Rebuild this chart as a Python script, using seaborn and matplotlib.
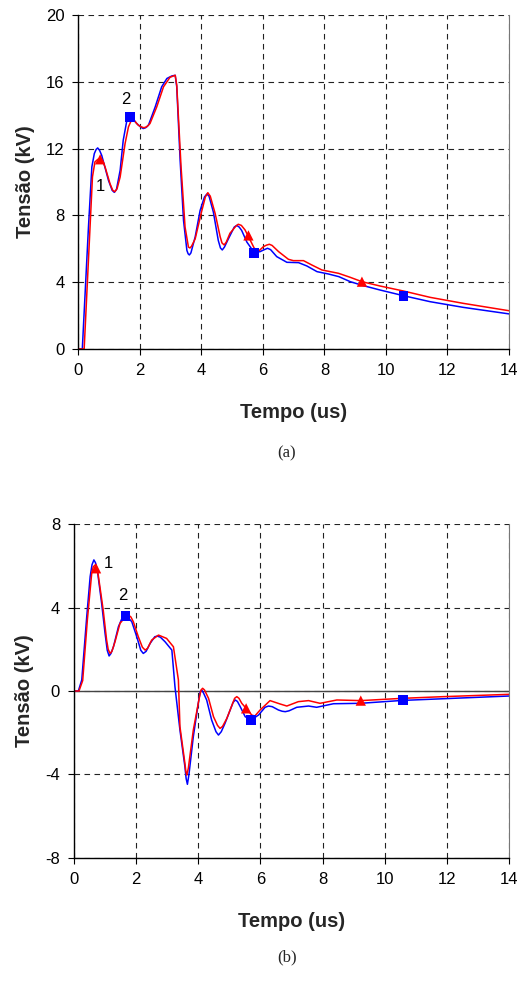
import matplotlib
matplotlib.use("Agg")
import matplotlib.pyplot as plt
import seaborn as sns

# (a) voltage waveforms, time in us, voltage in kV
A_BLUE_T = [0.0, 0.13, 0.33, 0.44, 0.52, 0.58, 0.63, 0.69, 0.76, 0.98, 1.1, 1.17, 1.24, 1.36, 1.46, 1.57,
            1.62, 1.68, 1.75, 1.9, 2.02, 2.11, 2.19, 2.28, 2.5, 2.71, 2.88, 3.04, 3.15, 3.2, 3.31, 3.42,
            3.53, 3.57, 3.61, 3.66, 3.8, 3.96, 4.1, 4.18, 4.25, 4.39, 4.55, 4.62, 4.68, 4.75, 4.88, 5.07,
            5.15, 5.23, 5.31, 5.48, 5.72, 5.91, 6.05, 6.15, 6.25, 6.45, 6.78, 7.16, 7.43, 7.76, 8.13,
            8.47, 8.84, 9.27, 9.81, 10.57, 11.44, 12.52, 14.0]
A_BLUE_V = [0.0, 0.0, 7.3, 10.9, 11.7, 11.95, 12.04, 11.9, 11.6, 10.1, 9.5, 9.38, 9.55, 10.7, 12.5, 13.6,
            13.8, 13.9, 13.85, 13.5, 13.3, 13.2, 13.25, 13.4, 14.5, 15.7, 16.2, 16.35, 16.39, 15.7, 11.3, 7.7,
            5.9, 5.7, 5.63, 5.75, 6.72, 8.3, 9.1, 9.28, 9.15, 8.2, 6.5, 6.05, 5.93, 6.1, 6.6, 7.3,
            7.4, 7.3, 7.1, 6.4, 5.77, 5.83, 5.95, 6.03, 5.95, 5.53, 5.19, 5.17, 4.97, 4.63, 4.49,
            4.33, 4.03, 3.79, 3.53, 3.19, 2.83, 2.49, 2.1]
A_RED_T = [0.0, 0.19, 0.35, 0.46, 0.54, 0.63, 0.71, 0.79, 0.87, 1.03, 1.12, 1.19, 1.26, 1.36, 1.52, 1.63,
           1.7, 1.76, 1.83, 1.95, 2.05, 2.13, 2.22, 2.33, 2.55, 2.77, 2.98, 3.15, 3.2, 3.34, 3.47, 3.58,
           3.63, 3.68, 3.8, 3.99, 4.13, 4.21, 4.29, 4.45, 4.61, 4.67, 4.74, 4.81, 4.93, 5.12, 5.2, 5.3,
           5.42, 5.53, 5.72, 5.88, 6.02, 6.12, 6.21, 6.3, 6.51, 6.83, 6.99, 7.32, 7.59, 7.92, 8.19, 8.46,
           8.84, 9.22, 9.81, 10.57, 11.44, 12.52, 14.0]
A_RED_V = [0.0, 0.0, 6.1, 10.3, 11.2, 11.35, 11.4, 11.25, 10.9, 9.9, 9.5, 9.42, 9.6, 10.3, 12.3, 13.3,
           13.6, 13.7, 13.65, 13.4, 13.3, 13.25, 13.3, 13.5, 14.5, 15.7, 16.27, 16.39, 15.8, 10.9, 7.3, 6.1,
           6.05, 6.15, 6.6, 8.1, 9.1, 9.36, 9.15, 8.1, 6.73, 6.35, 6.23, 6.4, 6.93, 7.35, 7.47, 7.4,
           7.13, 6.73, 6.03, 5.89, 6.13, 6.22, 6.27, 6.2, 5.83, 5.37, 5.29, 5.29, 5.03, 4.73, 4.63, 4.53,
           4.29, 4.03, 3.77, 3.47, 3.09, 2.73, 2.29]
A_TRI_T = [0.71, 5.53, 9.22]
A_TRI_V = [11.36, 6.8, 4.03]
A_SQ_T = [1.68, 5.72, 10.57]
A_SQ_V = [13.9, 5.77, 3.19]
A_LABELS = [("1", 0.71, 9.72), ("2", 1.54, 14.95)]

# (b) voltage waveforms
B_BLUE_T = [0.0, 0.14, 0.25, 0.41, 0.52, 0.58, 0.64, 0.69, 0.75, 0.89, 1.0, 1.07, 1.13, 1.19, 1.27, 1.43,
            1.55, 1.64, 1.72, 1.86, 2.02, 2.15, 2.23, 2.32, 2.45, 2.6, 2.68, 2.78, 2.93, 3.15, 3.25, 3.41,
            3.57, 3.61, 3.65, 3.7, 3.84, 4.0, 4.06, 4.11, 4.17, 4.27, 4.43, 4.57, 4.65, 4.74, 4.86, 5.12,
            5.19, 5.26, 5.35, 5.51, 5.7, 5.94, 6.15, 6.26, 6.38, 6.58, 6.7, 6.8, 6.92, 7.17, 7.55, 7.81,
            8.35, 9.21, 10.58, 11.89, 14.0]
B_BLUE_V = [0.0, 0.0, 0.53, 3.56, 5.48, 6.05, 6.28, 6.15, 5.8, 4.2, 2.76, 1.95, 1.68, 1.8, 2.12, 3.08,
            3.5, 3.64, 3.55, 3.32, 2.6, 1.95, 1.8, 1.9, 2.28, 2.6, 2.63, 2.58, 2.36, 1.96, 0.2, -1.87,
            -3.63, -4.2, -4.47, -4.0, -2.19, -0.59, -0.05, 0.05, -0.1, -0.43, -1.39, -1.95, -2.11, -1.95, -1.55, -0.55,
            -0.43, -0.5, -0.75, -1.23, -1.39, -1.15, -0.78, -0.72, -0.75, -0.91, -0.97, -0.99, -0.95, -0.78, -0.72, -0.78,
            -0.61, -0.59, -0.45, -0.37, -0.24]
B_RED_T = [0.0, 0.16, 0.28, 0.43, 0.57, 0.62, 0.68, 0.73, 0.78, 0.94, 1.05, 1.1, 1.16, 1.22, 1.32, 1.48,
           1.65, 1.75, 1.83, 1.91, 2.07, 2.2, 2.29, 2.37, 2.5, 2.72, 2.98, 3.2, 3.36, 3.41, 3.57, 3.6,
           3.63, 3.68, 3.84, 4.04, 4.09, 4.14, 4.2, 4.33, 4.49, 4.62, 4.7, 4.78, 4.92, 5.17, 5.24, 5.31,
           5.4, 5.54, 5.72, 5.82, 5.99, 6.31, 6.63, 6.85, 7.22, 7.55, 7.92, 8.46, 9.23, 10.58, 11.89, 14.0]
B_RED_V = [0.0, 0.0, 0.5, 3.4, 5.64, 5.95, 6.04, 5.9, 5.56, 3.88, 2.44, 2.0, 1.8, 1.9, 2.36, 3.24,
           3.55, 3.64, 3.55, 3.32, 2.6, 2.1, 1.96, 2.05, 2.44, 2.68, 2.52, 2.12, 0.53, -1.71, -3.47, -3.85,
           -4.03, -3.7, -1.87, -0.27, 0.05, 0.13, 0.05, -0.35, -1.23, -1.65, -1.79, -1.7, -1.31, -0.35, -0.27, -0.35,
           -0.59, -0.83, -1.15, -1.2, -0.91, -0.46, -0.62, -0.72, -0.51, -0.46, -0.59, -0.43, -0.46, -0.35, -0.27, -0.16]
B_TRI_T = [0.71, 5.54, 9.23]
B_TRI_V = [5.88, -0.83, -0.46]
B_SQ_T = [1.66, 5.7, 10.58]
B_SQ_V = [3.6, -1.39, -0.45]
B_LABELS = [("1", 1.11, 6.12), ("2", 1.56, 4.57)]

X_TICKS = [0, 2, 4, 6, 8, 10, 12, 14]

sns.set_style("white")
plt.rcParams["font.family"] = ["Liberation Sans", "DejaVu Sans"]
plt.rcParams["axes.unicode_minus"] = False

fig = plt.figure(figsize=(5.2, 9.88), dpi=100)
ax_a = fig.add_axes([0.1506, 0.6468, 0.8282, 0.3380])
ax_b = fig.add_axes([0.1423, 0.1316, 0.8365, 0.3380])


def style_axis(ax, ylim, yticks):
    ax.set_xlim(0, 14)
    ax.set_ylim(*ylim)
    ax.set_xticks(X_TICKS)
    ax.set_yticks(yticks)
    ax.grid(True, linestyle=(0, (5, 4)), color="#222222", linewidth=0.8)
    ax.set_axisbelow(True)
    for side in ["left", "bottom"]:
        ax.spines[side].set_color("black")
        ax.spines[side].set_linewidth(1.0)
    ax.spines["top"].set_visible(False)
    ax.spines["right"].set_color("#777777")
    ax.spines["right"].set_linewidth(0.8)
    ax.tick_params(axis="both", direction="out", length=4, width=0.8, colors="black",
                   labelsize=12, left=True, bottom=True, pad=6)
    ax.set_xlabel("Tempo (us)", fontsize=14.5, fontweight="bold", labelpad=18)
    ax.set_ylabel("Tensão (kV)", fontsize=14.5, fontweight="bold", labelpad=8)


def draw_panel(ax, bt, bv, rt, rv, tri_t, tri_v, sq_t, sq_v, labels):
    sns.lineplot(x=bt, y=bv, color="#0000ff", linewidth=1.1, ax=ax)
    sns.lineplot(x=rt, y=rv, color="#ff0000", linewidth=1.1, ax=ax)
    sns.scatterplot(x=tri_t, y=tri_v, marker="^", color="#ff0000", s=55, edgecolor="none", ax=ax, zorder=5)
    sns.scatterplot(x=sq_t, y=sq_v, marker="s", color="#0000ff", s=50, edgecolor="none", ax=ax, zorder=5)
    for text, tx, ty in labels:
        ax.text(tx, ty, text, fontsize=12, ha="center", va="center", color="black")


draw_panel(ax_a, A_BLUE_T, A_BLUE_V, A_RED_T, A_RED_V, A_TRI_T, A_TRI_V, A_SQ_T, A_SQ_V, A_LABELS)
style_axis(ax_a, (0, 20), [0, 4, 8, 12, 16, 20])

draw_panel(ax_b, B_BLUE_T, B_BLUE_V, B_RED_T, B_RED_V, B_TRI_T, B_TRI_V, B_SQ_T, B_SQ_V, B_LABELS)
style_axis(ax_b, (-8, 8), [-8, -4, 0, 4, 8])
ax_b.axhline(0, color="#444444", linewidth=1.0, zorder=1)

fig.text(0.552, 1 - 453 / 988, "(a)", family="Liberation Serif", fontsize=12, ha="center", va="center")
fig.text(0.552, 1 - 957 / 988, "(b)", family="Liberation Serif", fontsize=12, ha="center", va="center")

fig.savefig("out.png", dpi=100)
